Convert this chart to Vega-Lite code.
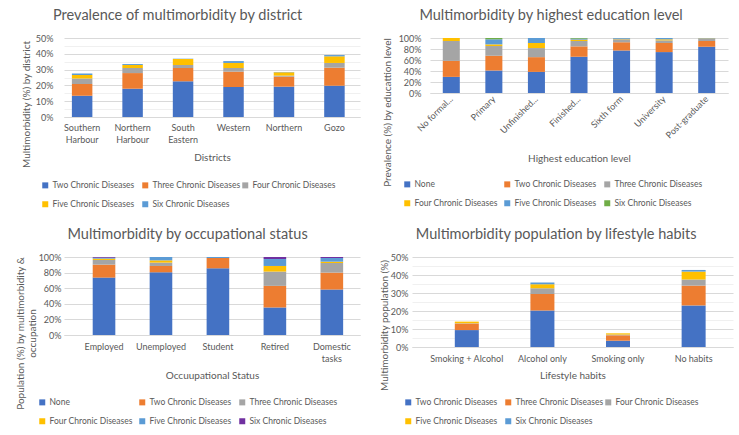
{
  "$schema": "https://vega.github.io/schema/vega-lite/v6.json",
  "background": "white",
  "padding": {"left": 15, "top": 7, "right": 5, "bottom": 5},
  "spacing": 17,
  "config": {
    "font": "Lato",
    "view": {"stroke": null},
    "title": {"font": "Lato", "fontSize": 14.5, "fontWeight": "normal", "color": "#595959", "frame": "bounds", "anchor": "middle", "offset": 11},
    "axis": {"labelFont": "Lato", "titleFont": "Lato", "labelColor": "#595959", "titleColor": "#595959", "labelFontSize": 9, "titleFontSize": 10, "titleFontWeight": "normal", "ticks": false, "domain": false, "gridColor": "#D9D9D9", "labelLineHeight": 12},
    "axisX": {"grid": false, "domain": true, "domainColor": "#D9D9D9", "labelAngle": 0, "labelPadding": 6, "titlePadding": 8},
    "axisY": {"grid": true, "minExtent": 0, "gridColor": {"condition": {"test": "datum.value % 20 == 0 || (datum.value <= 50 && datum.value % 10 == 0)", "value": "#D9D9D9"}, "value": "#F0F0F0"}},
    "legend": {"orient": "none", "direction": "horizontal", "columns": 3, "symbolType": "square", "symbolSize": 36, "symbolStrokeWidth": 0, "labelFont": "Lato", "labelFontSize": 8.5, "labelColor": "#595959", "gridAlign": "all", "columnPadding": 0, "rowPadding": 10, "labelOffset": 3},
    "bar": {"stroke": null}
  },
  "resolve": {"scale": {"color": "independent", "x": "independent", "y": "independent"}, "legend": {"color": "independent"}},
  "vconcat": [
    {
      "spacing": 22,
      "resolve": {"scale": {"color": "independent", "x": "independent", "y": "independent"}, "legend": {"color": "independent"}},
      "hconcat": [
        {
          "width": 296, "height": 79,
          "title": {"text": "Prevalence of multimorbidity by district", "dx": -13},
          "data": {"values": [
            {"district": "Southern Harbour", "type": "Two Chronic Diseases", "k": 1, "value": 13.5},
            {"district": "Southern Harbour", "type": "Three Chronic Diseases", "k": 2, "value": 7.4},
            {"district": "Southern Harbour", "type": "Four Chronic Diseases", "k": 3, "value": 3.4},
            {"district": "Southern Harbour", "type": "Five Chronic Diseases", "k": 4, "value": 2.3},
            {"district": "Southern Harbour", "type": "Six Chronic Diseases", "k": 5, "value": 1.0},
            {"district": "Northern Harbour", "type": "Two Chronic Diseases", "k": 1, "value": 17.9},
            {"district": "Northern Harbour", "type": "Three Chronic Diseases", "k": 2, "value": 9.9},
            {"district": "Northern Harbour", "type": "Four Chronic Diseases", "k": 3, "value": 3.2},
            {"district": "Northern Harbour", "type": "Five Chronic Diseases", "k": 4, "value": 1.9},
            {"district": "Northern Harbour", "type": "Six Chronic Diseases", "k": 5, "value": 0.6},
            {"district": "South Eastern", "type": "Two Chronic Diseases", "k": 1, "value": 22.6},
            {"district": "South Eastern", "type": "Three Chronic Diseases", "k": 2, "value": 8.4},
            {"district": "South Eastern", "type": "Four Chronic Diseases", "k": 3, "value": 1.9},
            {"district": "South Eastern", "type": "Five Chronic Diseases", "k": 4, "value": 3.8},
            {"district": "South Eastern", "type": "Six Chronic Diseases", "k": 5, "value": 0.2},
            {"district": "Western", "type": "Two Chronic Diseases", "k": 1, "value": 19.0},
            {"district": "Western", "type": "Three Chronic Diseases", "k": 2, "value": 9.7},
            {"district": "Western", "type": "Four Chronic Diseases", "k": 3, "value": 2.3},
            {"district": "Western", "type": "Five Chronic Diseases", "k": 4, "value": 3.2},
            {"district": "Western", "type": "Six Chronic Diseases", "k": 5, "value": 1.2},
            {"district": "Northern", "type": "Two Chronic Diseases", "k": 1, "value": 19.2},
            {"district": "Northern", "type": "Three Chronic Diseases", "k": 2, "value": 6.3},
            {"district": "Northern", "type": "Four Chronic Diseases", "k": 3, "value": 0.7},
            {"district": "Northern", "type": "Five Chronic Diseases", "k": 4, "value": 2.1},
            {"district": "Northern", "type": "Six Chronic Diseases", "k": 5, "value": 0.2},
            {"district": "Gozo", "type": "Two Chronic Diseases", "k": 1, "value": 19.8},
            {"district": "Gozo", "type": "Three Chronic Diseases", "k": 2, "value": 11.4},
            {"district": "Gozo", "type": "Four Chronic Diseases", "k": 3, "value": 3.0},
            {"district": "Gozo", "type": "Five Chronic Diseases", "k": 4, "value": 4.2},
            {"district": "Gozo", "type": "Six Chronic Diseases", "k": 5, "value": 0.8}
          ]},
          "mark": {"type": "bar"},
          "encoding": {
            "x": {"field": "district", "type": "nominal", "sort": null, "scale": {"paddingInner": 0.594, "paddingOuter": 0.23, "align": 0.34}, "axis": {"title": "Districts", "labelExpr": "split(datum.label, ' ')"}},
            "y": {"field": "value", "type": "quantitative", "stack": "zero", "scale": {"domain": [0, 50]}, "axis": {"title": "Multimorbidity (%) by district", "values": [0, 5, 10, 15, 20, 25, 30, 35, 40, 45, 50], "labelExpr": "datum.value % 10 == 0 ? datum.value + '%' : ''", "labelPadding": 11, "titlePadding": 4, "titleY": 66}},
            "color": {"field": "type", "type": "nominal", "scale": {"domain": ["Two Chronic Diseases", "Three Chronic Diseases", "Four Chronic Diseases", "Five Chronic Diseases", "Six Chronic Diseases"], "range": ["#4472C4", "#ED7D31", "#A5A5A5", "#FFC000", "#5B9BD5"]}, "legend": {"title": null, "legendX": -23, "legendY": 143}},
            "order": {"field": "k", "type": "quantitative", "sort": "ascending"}
          }
        },
        {
          "width": 298, "height": 55,
          "title": {"text": "Multimorbidity by highest education level", "dx": -4},
          "data": {"values": [
            {"level": "No formal...", "type": "None", "k": 1, "value": 29.3},
            {"level": "No formal...", "type": "Two Chronic Diseases", "k": 2, "value": 29.2},
            {"level": "No formal...", "type": "Three Chronic Diseases", "k": 3, "value": 36.0},
            {"level": "No formal...", "type": "Four Chronic Diseases", "k": 4, "value": 5.5},
            {"level": "Primary", "type": "None", "k": 1, "value": 40.9},
            {"level": "Primary", "type": "Two Chronic Diseases", "k": 2, "value": 26.8},
            {"level": "Primary", "type": "Three Chronic Diseases", "k": 3, "value": 17.7},
            {"level": "Primary", "type": "Four Chronic Diseases", "k": 4, "value": 3.0},
            {"level": "Primary", "type": "Five Chronic Diseases", "k": 5, "value": 9.2},
            {"level": "Primary", "type": "Six Chronic Diseases", "k": 6, "value": 2.4},
            {"level": "Unfinished...", "type": "None", "k": 1, "value": 38.4},
            {"level": "Unfinished...", "type": "Two Chronic Diseases", "k": 2, "value": 26.8},
            {"level": "Unfinished...", "type": "Three Chronic Diseases", "k": 3, "value": 16.5},
            {"level": "Unfinished...", "type": "Four Chronic Diseases", "k": 4, "value": 9.2},
            {"level": "Unfinished...", "type": "Five Chronic Diseases", "k": 5, "value": 9.1},
            {"level": "Finished...", "type": "None", "k": 1, "value": 65.9},
            {"level": "Finished...", "type": "Two Chronic Diseases", "k": 2, "value": 18.9},
            {"level": "Finished...", "type": "Three Chronic Diseases", "k": 3, "value": 9.7},
            {"level": "Finished...", "type": "Four Chronic Diseases", "k": 4, "value": 2.5},
            {"level": "Finished...", "type": "Five Chronic Diseases", "k": 5, "value": 1.8},
            {"level": "Finished...", "type": "Six Chronic Diseases", "k": 6, "value": 1.2},
            {"level": "Sixth form", "type": "None", "k": 1, "value": 77.4},
            {"level": "Sixth form", "type": "Two Chronic Diseases", "k": 2, "value": 14.7},
            {"level": "Sixth form", "type": "Three Chronic Diseases", "k": 3, "value": 5.5},
            {"level": "Sixth form", "type": "Four Chronic Diseases", "k": 4, "value": 1.2},
            {"level": "Sixth form", "type": "Five Chronic Diseases", "k": 5, "value": 1.2},
            {"level": "University", "type": "None", "k": 1, "value": 74.4},
            {"level": "University", "type": "Two Chronic Diseases", "k": 2, "value": 16.5},
            {"level": "University", "type": "Three Chronic Diseases", "k": 3, "value": 4.8},
            {"level": "University", "type": "Four Chronic Diseases", "k": 4, "value": 1.9},
            {"level": "University", "type": "Five Chronic Diseases", "k": 5, "value": 2.4},
            {"level": "Post-graduate", "type": "None", "k": 1, "value": 84.1},
            {"level": "Post-graduate", "type": "Two Chronic Diseases", "k": 2, "value": 10.4},
            {"level": "Post-graduate", "type": "Three Chronic Diseases", "k": 3, "value": 4.3},
            {"level": "Post-graduate", "type": "Four Chronic Diseases", "k": 4, "value": 0.6},
            {"level": "Post-graduate", "type": "Five Chronic Diseases", "k": 5, "value": 0.6}
          ]},
          "mark": {"type": "bar"},
          "encoding": {
            "x": {"field": "level", "type": "nominal", "sort": null, "scale": {"paddingInner": 0.6, "paddingOuter": 0.3}, "axis": {"title": "Highest education level", "labelAngle": -45, "labelAlign": "right", "labelBaseline": "middle", "labelPadding": 4, "titlePadding": 14}},
            "y": {"field": "value", "type": "quantitative", "stack": "zero", "scale": {"domain": [0, 100]}, "axis": {"title": "Prevalence (%) by educattion level", "values": [0, 20, 40, 60, 80, 100], "labelExpr": "datum.value + '%'", "labelPadding": 9, "titlePadding": 6, "titleY": 74}},
            "color": {"field": "type", "type": "nominal", "scale": {"domain": ["None", "Two Chronic Diseases", "Three Chronic Diseases", "Four Chronic Diseases", "Five Chronic Diseases", "Six Chronic Diseases"], "range": ["#4472C4", "#ED7D31", "#A5A5A5", "#FFC000", "#5B9BD5", "#70AD47"]}, "legend": {"title": null, "legendX": -27, "legendY": 142}},
            "order": {"field": "k", "type": "quantitative", "sort": "ascending"}
          }
        }
      ]
    },
    {
      "spacing": 19,
      "resolve": {"scale": {"color": "independent", "x": "independent", "y": "independent"}, "legend": {"color": "independent"}},
      "hconcat": [
        {
          "width": 296, "height": 78,
          "title": {"text": "Multimorbidity by occupational status"},
          "data": {"values": [
            {"status": "Employed", "type": "None", "k": 1, "value": 73.6},
            {"status": "Employed", "type": "Two Chronic Diseases", "k": 2, "value": 16.6},
            {"status": "Employed", "type": "Three Chronic Diseases", "k": 3, "value": 6.0},
            {"status": "Employed", "type": "Four Chronic Diseases", "k": 4, "value": 1.7},
            {"status": "Employed", "type": "Five Chronic Diseases", "k": 5, "value": 1.2},
            {"status": "Employed", "type": "Six Chronic Diseases", "k": 6, "value": 0.9},
            {"status": "Unemployed", "type": "None", "k": 1, "value": 80.4},
            {"status": "Unemployed", "type": "Two Chronic Diseases", "k": 2, "value": 8.1},
            {"status": "Unemployed", "type": "Three Chronic Diseases", "k": 3, "value": 4.3},
            {"status": "Unemployed", "type": "Four Chronic Diseases", "k": 4, "value": 2.9},
            {"status": "Unemployed", "type": "Five Chronic Diseases", "k": 5, "value": 4.3},
            {"status": "Student", "type": "None", "k": 1, "value": 85.5},
            {"status": "Student", "type": "Two Chronic Diseases", "k": 2, "value": 13.2},
            {"status": "Student", "type": "Five Chronic Diseases", "k": 5, "value": 1.3},
            {"status": "Retired", "type": "None", "k": 1, "value": 35.3},
            {"status": "Retired", "type": "Two Chronic Diseases", "k": 2, "value": 27.7},
            {"status": "Retired", "type": "Three Chronic Diseases", "k": 3, "value": 18.3},
            {"status": "Retired", "type": "Four Chronic Diseases", "k": 4, "value": 7.2},
            {"status": "Retired", "type": "Five Chronic Diseases", "k": 5, "value": 8.9},
            {"status": "Retired", "type": "Six Chronic Diseases", "k": 6, "value": 2.6},
            {"status": "Domestic tasks", "type": "None", "k": 1, "value": 58.3},
            {"status": "Domestic tasks", "type": "Two Chronic Diseases", "k": 2, "value": 21.7},
            {"status": "Domestic tasks", "type": "Three Chronic Diseases", "k": 3, "value": 12.3},
            {"status": "Domestic tasks", "type": "Four Chronic Diseases", "k": 4, "value": 1.7},
            {"status": "Domestic tasks", "type": "Five Chronic Diseases", "k": 5, "value": 4.7},
            {"status": "Domestic tasks", "type": "Six Chronic Diseases", "k": 6, "value": 1.3}
          ]},
          "mark": {"type": "bar"},
          "encoding": {
            "x": {"field": "status", "type": "nominal", "sort": null, "scale": {"paddingInner": 0.603, "paddingOuter": 0.4, "align": 0.63}, "axis": {"title": "Occuupational Status", "labelExpr": "split(datum.label, ' ')", "labelPadding": 7, "titlePadding": 7}},
            "y": {"field": "value", "type": "quantitative", "stack": "zero", "scale": {"domain": [0, 100]}, "axis": {"title": ["Population (%) by multimorbidity &", "occupation"], "values": [0, 20, 40, 60, 80, 100], "labelExpr": "datum.value + '%'", "labelPadding": 3, "titlePadding": 1, "titleY": 76}},
            "color": {"field": "type", "type": "nominal", "scale": {"domain": ["None", "Two Chronic Diseases", "Three Chronic Diseases", "Four Chronic Diseases", "Five Chronic Diseases", "Six Chronic Diseases"], "range": ["#4472C4", "#ED7D31", "#A5A5A5", "#FFC000", "#5B9BD5", "#7030A0"]}, "legend": {"title": null, "legendX": -26, "legendY": 141}},
            "order": {"field": "k", "type": "quantitative", "sort": "ascending"}
          }
        },
        {
          "width": 321, "height": 90,
          "title": {"text": "Multimorbidity population by lifestyle habits"},
          "data": {"values": [
            {"habit": "Smoking + Alcohol", "type": "Two Chronic Diseases", "k": 1, "value": 9.4},
            {"habit": "Smoking + Alcohol", "type": "Three Chronic Diseases", "k": 2, "value": 3.6},
            {"habit": "Smoking + Alcohol", "type": "Four Chronic Diseases", "k": 3, "value": 0.2},
            {"habit": "Smoking + Alcohol", "type": "Five Chronic Diseases", "k": 4, "value": 0.9},
            {"habit": "Alcohol only", "type": "Two Chronic Diseases", "k": 1, "value": 20.3},
            {"habit": "Alcohol only", "type": "Three Chronic Diseases", "k": 2, "value": 9.2},
            {"habit": "Alcohol only", "type": "Four Chronic Diseases", "k": 3, "value": 3.2},
            {"habit": "Alcohol only", "type": "Five Chronic Diseases", "k": 4, "value": 2.2},
            {"habit": "Alcohol only", "type": "Six Chronic Diseases", "k": 5, "value": 0.9},
            {"habit": "Smoking only", "type": "Two Chronic Diseases", "k": 1, "value": 3.5},
            {"habit": "Smoking only", "type": "Three Chronic Diseases", "k": 2, "value": 3.0},
            {"habit": "Smoking only", "type": "Four Chronic Diseases", "k": 3, "value": 0.4},
            {"habit": "Smoking only", "type": "Five Chronic Diseases", "k": 4, "value": 0.7},
            {"habit": "No habits", "type": "Two Chronic Diseases", "k": 1, "value": 23.1},
            {"habit": "No habits", "type": "Three Chronic Diseases", "k": 2, "value": 11.0},
            {"habit": "No habits", "type": "Four Chronic Diseases", "k": 3, "value": 3.4},
            {"habit": "No habits", "type": "Five Chronic Diseases", "k": 4, "value": 4.4},
            {"habit": "No habits", "type": "Six Chronic Diseases", "k": 5, "value": 0.9}
          ]},
          "mark": {"type": "bar"},
          "encoding": {
            "x": {"field": "habit", "type": "nominal", "sort": null, "scale": {"paddingInner": 0.6825, "paddingOuter": 0.464, "align": 0.61}, "axis": {"title": "Lifestyle habits", "labelPadding": 7, "titlePadding": 7}},
            "y": {"field": "value", "type": "quantitative", "stack": "zero", "scale": {"domain": [0, 50]}, "axis": {"title": "Multimorbidity population (%)", "values": [0, 5, 10, 15, 20, 25, 30, 35, 40, 45, 50], "labelExpr": "datum.value % 10 == 0 ? datum.value + '%' : ''", "labelPadding": 4, "titlePadding": 1, "titleY": 68}},
            "color": {"field": "type", "type": "nominal", "scale": {"domain": ["Two Chronic Diseases", "Three Chronic Diseases", "Four Chronic Diseases", "Five Chronic Diseases", "Six Chronic Diseases"], "range": ["#4472C4", "#ED7D31", "#A5A5A5", "#FFC000", "#5B9BD5"]}, "legend": {"title": null, "legendX": -8, "legendY": 141}},
            "order": {"field": "k", "type": "quantitative", "sort": "ascending"}
          }
        }
      ]
    }
  ]
}
